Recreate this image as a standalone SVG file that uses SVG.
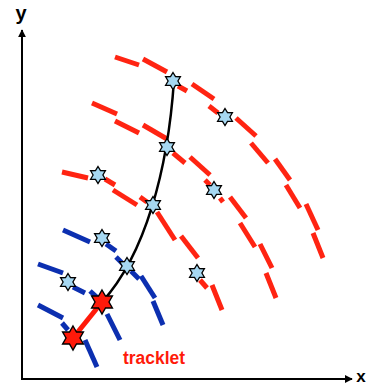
<svg xmlns="http://www.w3.org/2000/svg" xmlns:xlink="http://www.w3.org/1999/xlink" width="371" height="385" viewBox="0 0 371 385">
<style>
.red{stroke:#ff2412;stroke-width:5;fill:none;stroke-linecap:butt}
.blue{stroke:#0c2fb0;stroke-width:5;fill:none;stroke-linecap:butt}
.axis{stroke:#000;stroke-width:2;fill:none}
.hit{fill:#a6d8f2;stroke:#000;stroke-width:1.3;stroke-linejoin:miter}
.seed{fill:#ff1a0a;stroke:#000;stroke-width:1.4}
.lbl{font-family:"Liberation Sans",Arial,sans-serif;font-weight:bold;fill:#000}
</style>
<defs>
<marker id="arr" viewBox="0 0 10 10" refX="9" refY="5" markerWidth="8" markerHeight="8" markerUnits="userSpaceOnUse" orient="auto"><path d="M0,0 L10,5 L0,10 Z" fill="#000"/></marker>
<polygon id="starS" points="0,-8.5 2.5,-4.3 7.4,-4.25 4.9,0 7.4,4.25 2.5,4.3 0,8.5 -2.5,4.3 -7.4,4.25 -4.9,0 -7.4,-4.25 -2.5,-4.3"/>
<polygon id="starL" points="0,-12 3.5,-6 10.4,-6 7,0 10.4,6 3.5,6 0,12 -3.5,6 -10.4,6 -7,0 -10.4,-6 -3.5,-6"/>
</defs>
<g id="axes">
<line class="axis" x1="22" y1="379" x2="22" y2="30" marker-end="url(#arr)"/>
<line class="axis" x1="21" y1="379" x2="352" y2="379" marker-end="url(#arr)"/>
<text class="lbl" x="21" y="20" font-size="20" text-anchor="middle">y</text>
<text class="lbl" x="361" y="382" font-size="17" text-anchor="middle">x</text>
</g>
<g id="arc-red-1">
<line class="red" x1="115" y1="57" x2="139" y2="65"/>
<line class="red" x1="143" y1="59" x2="167" y2="72"/>
<line class="red" x1="178" y1="86" x2="187" y2="91"/>
<line class="red" x1="192" y1="84" x2="214" y2="99"/>
<line class="red" x1="209" y1="106" x2="218" y2="113"/>
<line class="red" x1="236" y1="118" x2="256" y2="136"/>
<line class="red" x1="251" y1="143" x2="268" y2="163"/>
<line class="red" x1="275" y1="159" x2="290" y2="180"/>
<line class="red" x1="286" y1="185" x2="300" y2="208"/>
<line class="red" x1="306" y1="204" x2="318" y2="230"/>
<line class="red" x1="313" y1="233" x2="323" y2="258"/>
</g>
<g id="arc-red-2">
<line class="red" x1="92" y1="103" x2="117" y2="114"/>
<line class="red" x1="115" y1="121" x2="139" y2="133"/>
<line class="red" x1="143" y1="125" x2="167" y2="139"/>
<line class="red" x1="173" y1="153" x2="185" y2="163"/>
<line class="red" x1="190" y1="157" x2="210" y2="175"/>
<line class="red" x1="205" y1="180" x2="210" y2="185"/>
<line class="red" x1="220" y1="198" x2="223" y2="202"/>
<line class="red" x1="230" y1="197" x2="246" y2="218"/>
<line class="red" x1="240" y1="223" x2="255" y2="247"/>
<line class="red" x1="260" y1="244" x2="272" y2="268"/>
<line class="red" x1="266" y1="273" x2="276" y2="298"/>
</g>
<g id="arc-red-3">
<line class="red" x1="62" y1="172" x2="88" y2="178"/>
<line class="red" x1="105" y1="179" x2="115" y2="185"/>
<line class="red" x1="113" y1="190" x2="137" y2="205"/>
<line class="red" x1="140" y1="197" x2="147" y2="202"/>
<line class="red" x1="157" y1="212" x2="175" y2="240"/>
<line class="red" x1="181" y1="236" x2="198" y2="258"/>
<line class="red" x1="200" y1="280" x2="207" y2="288"/>
<line class="red" x1="212" y1="285" x2="222" y2="310"/>
</g>
<g id="arc-blue-1">
<line class="blue" x1="63" y1="230" x2="90" y2="242"/>
<line class="blue" x1="106" y1="244" x2="116" y2="251"/>
<line class="blue" x1="116" y1="257" x2="124" y2="265"/>
<line class="blue" x1="131" y1="271" x2="139" y2="279"/>
<line class="blue" x1="141" y1="276" x2="155" y2="298"/>
<line class="blue" x1="153" y1="301" x2="163" y2="325"/>
</g>
<g id="arc-blue-2">
<line class="blue" x1="38" y1="264" x2="63" y2="273"/>
<line class="blue" x1="73" y1="287" x2="85" y2="293"/>
<line class="blue" x1="90" y1="291" x2="100" y2="300"/>
<line class="blue" x1="107" y1="314" x2="120" y2="340"/>
</g>
<g id="arc-blue-3">
<line class="blue" x1="38" y1="305" x2="63" y2="318"/>
<line class="blue" x1="62" y1="323" x2="68" y2="330"/>
<line class="blue" x1="85" y1="340" x2="97" y2="367"/>
</g>
<g id="connectors">
<path id="track" d="M102,302 C145,255 168,170 174,80" fill="none" stroke="#000" stroke-width="2.5"/>
<line id="tracklet-line" x1="73" y1="338" x2="102" y2="302" stroke="#ff1a0a" stroke-width="5"/>
</g>
<g id="hit-1"><use xlink:href="#starS" class="hit" x="173" y="81"/></g>
<g id="hit-2"><use xlink:href="#starS" class="hit" x="225" y="117"/></g>
<g id="hit-3"><use xlink:href="#starS" class="hit" x="167" y="147"/></g>
<g id="hit-4"><use xlink:href="#starS" class="hit" x="98" y="175"/></g>
<g id="hit-5"><use xlink:href="#starS" class="hit" x="214" y="190"/></g>
<g id="hit-6"><use xlink:href="#starS" class="hit" x="153" y="205"/></g>
<g id="hit-7"><use xlink:href="#starS" class="hit" x="197" y="273"/></g>
<g id="hit-8"><use xlink:href="#starS" class="hit" x="102" y="238"/></g>
<g id="hit-9"><use xlink:href="#starS" class="hit" x="127" y="266"/></g>
<g id="hit-10"><use xlink:href="#starS" class="hit" x="68" y="282"/></g>
<g id="seed-1"><use xlink:href="#starL" class="seed" x="102" y="302"/></g>
<g id="seed-2"><use xlink:href="#starL" class="seed" x="73" y="338"/></g>
<g id="label-tracklet"><text x="123" y="364" font-family="Liberation Sans, Arial, sans-serif" font-weight="bold" font-size="18" fill="#ff1a0a" textLength="62" lengthAdjust="spacingAndGlyphs">tracklet</text></g>
</svg>
